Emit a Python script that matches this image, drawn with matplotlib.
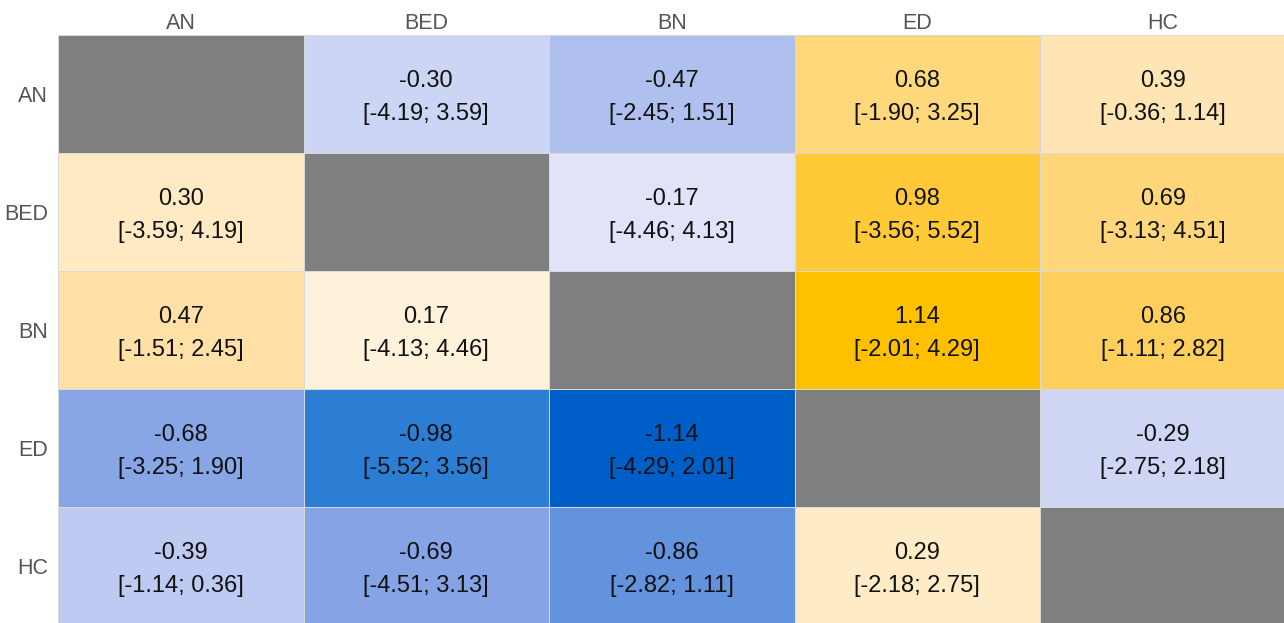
import numpy as np
import matplotlib
matplotlib.use("Agg")
import matplotlib.pyplot as plt
from matplotlib.colors import LinearSegmentedColormap, Normalize

groups = ["AN", "BED", "BN", "ED", "HC"]

# Mean differences (row minus column); diagonal left empty
diff = np.array([
    [np.nan, -0.30, -0.47, 0.68, 0.39],
    [0.30, np.nan, -0.17, 0.98, 0.69],
    [0.47, 0.17, np.nan, 1.14, 0.86],
    [-0.68, -0.98, -1.14, np.nan, -0.29],
    [-0.39, -0.69, -0.86, 0.29, np.nan],
])

ci_low = np.array([
    [np.nan, -4.19, -2.45, -1.90, -0.36],
    [-3.59, np.nan, -4.46, -3.56, -3.13],
    [-1.51, -4.13, np.nan, -2.01, -1.11],
    [-3.25, -5.52, -4.29, np.nan, -2.75],
    [-1.14, -4.51, -2.82, -2.18, np.nan],
])

ci_high = np.array([
    [np.nan, 3.59, 1.51, 3.25, 1.14],
    [4.19, np.nan, 4.13, 5.52, 4.51],
    [2.45, 4.46, np.nan, 4.29, 2.82],
    [1.90, 3.56, 2.01, np.nan, 2.18],
    [0.36, 3.13, 1.11, 2.75, np.nan],
])

# Diverging blue / gold palette
stops = [
    (0.000, "#005ec8"),
    (0.070, "#2e80d6"),
    (0.123, "#6494dc"),
    (0.200, "#88a5e6"),
    (0.294, "#b0c0ee"),
    (0.368, "#cdd5f4"),
    (0.425, "#e2e4f8"),
    (0.500, "#f8f4f6"),
    (0.575, "#fff2dc"),
    (0.632, "#ffeac4"),
    (0.706, "#ffe0a6"),
    (0.798, "#ffd87c"),
    (0.877, "#ffcf5e"),
    (0.930, "#ffc93a"),
    (1.000, "#ffc000"),
]
cmap = LinearSegmentedColormap.from_list("bluegold", stops)
cmap.set_bad("#7f7f7f")
vmax = np.nanmax(np.abs(diff))
norm = Normalize(vmin=-vmax, vmax=vmax)

W, H, DPI = 1284, 623, 100
fig = plt.figure(figsize=(W / DPI, H / DPI), dpi=DPI)
left_px, top_px, cell_w, cell_h = 58, 35, 245.5, 118
n = len(groups)
ax = fig.add_axes([
    left_px / W,
    1 - (top_px + n * cell_h) / H,
    n * cell_w / W,
    n * cell_h / H,
])

masked = np.ma.masked_invalid(diff)
ax.pcolormesh(np.arange(n + 1), np.arange(n + 1), masked, cmap=cmap, norm=norm,
              edgecolors="#d9d9d9", linewidth=0.5)
ax.set_xlim(0, n)
ax.set_ylim(n, 0)

for i in range(n):
    for j in range(n):
        if np.isnan(diff[i, j]):
            continue
        ax.text(j + 0.5, i + 0.5 + 0.03,
                f"{diff[i, j]:.2f}\n[{ci_low[i, j]:.2f}; {ci_high[i, j]:.2f}]",
                ha="center", va="center", fontsize=17,
                family="Liberation Sans", color="#111111", linespacing=1.68)

ax.xaxis.tick_top()
ax.set_xticks(np.arange(n) + 0.5)
ax.set_yticks(np.arange(n) + 0.5)
ax.set_xticklabels(groups, fontsize=15.5, family="Liberation Sans", color="#555555")
ax.set_yticklabels(groups, fontsize=15.5, family="Liberation Sans", color="#555555")
ax.tick_params(axis="x", length=0, pad=1)
ax.tick_params(axis="y", length=0, pad=7)
for s in ax.spines.values():
    s.set_visible(False)

fig.savefig("out.png", dpi=DPI)
